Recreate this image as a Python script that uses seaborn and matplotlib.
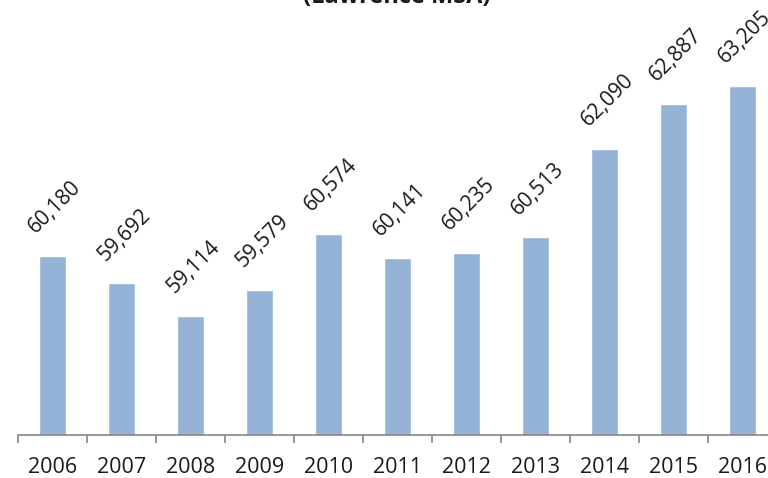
import matplotlib
matplotlib.use("Agg")
import matplotlib.pyplot as plt
from matplotlib.ticker import FixedLocator, NullFormatter
import seaborn as sns
import pandas as pd

years = ["2006", "2007", "2008", "2009", "2010", "2011",
         "2012", "2013", "2014", "2015", "2016"]
employment = [60180, 59692, 59114, 59579, 60574, 60141,
              60235, 60513, 62090, 62887, 63205]
title = "(Lawrence MSA)"

df = pd.DataFrame({"year": years, "value": employment})

sns.set_theme(style="white")
plt.rcParams["font.family"] = ["Open Sans", "DejaVu Sans"]

fig = plt.figure(figsize=(7.68, 4.78), dpi=100)
ax = fig.add_axes([18 / 768, 43 / 478, 759 / 768, 394 / 478])

sns.barplot(data=df, x="year", y="value", color="#95B3D7", width=0.4,
            saturation=1, ax=ax, errorbar=None)

ax.set_xlim(-0.5, len(years) - 0.5)
ax.set_ylim(57000, 64000)
ax.set_xlabel("")
ax.set_ylabel("")
ax.set_yticks([])

for side in ("top", "right", "left"):
    ax.spines[side].set_visible(False)
ax.spines["bottom"].set_color("#868686")
ax.spines["bottom"].set_linewidth(1.2)

# tick marks between categories, labels centred under bars
ax.xaxis.set_major_locator(FixedLocator([i - 0.5 for i in range(len(years) + 1)]))
ax.xaxis.set_major_formatter(NullFormatter())
ax.xaxis.set_minor_locator(FixedLocator(list(range(len(years)))))
ax.set_xticklabels(years, minor=True)
ax.tick_params(axis="x", which="major", bottom=True, length=6, width=1.2,
               color="#868686", direction="out")
ax.tick_params(axis="x", which="minor", bottom=True, length=0, pad=16,
               labelsize=15.5, labelcolor="#1a1a1a")

for i, v in enumerate(employment):
    ax.annotate(f"{v:,}", xy=(i, v), xytext=(2, 35), textcoords="offset points",
                ha="center", va="center", rotation=45, fontsize=15,
                color="#1a1a1a", annotation_clip=False)

fig.text(0.517, 1.006, title, ha="center", va="center", fontsize=17,
         fontweight="bold", color="#1a1a1a")

fig.savefig("out.png", dpi=100)
